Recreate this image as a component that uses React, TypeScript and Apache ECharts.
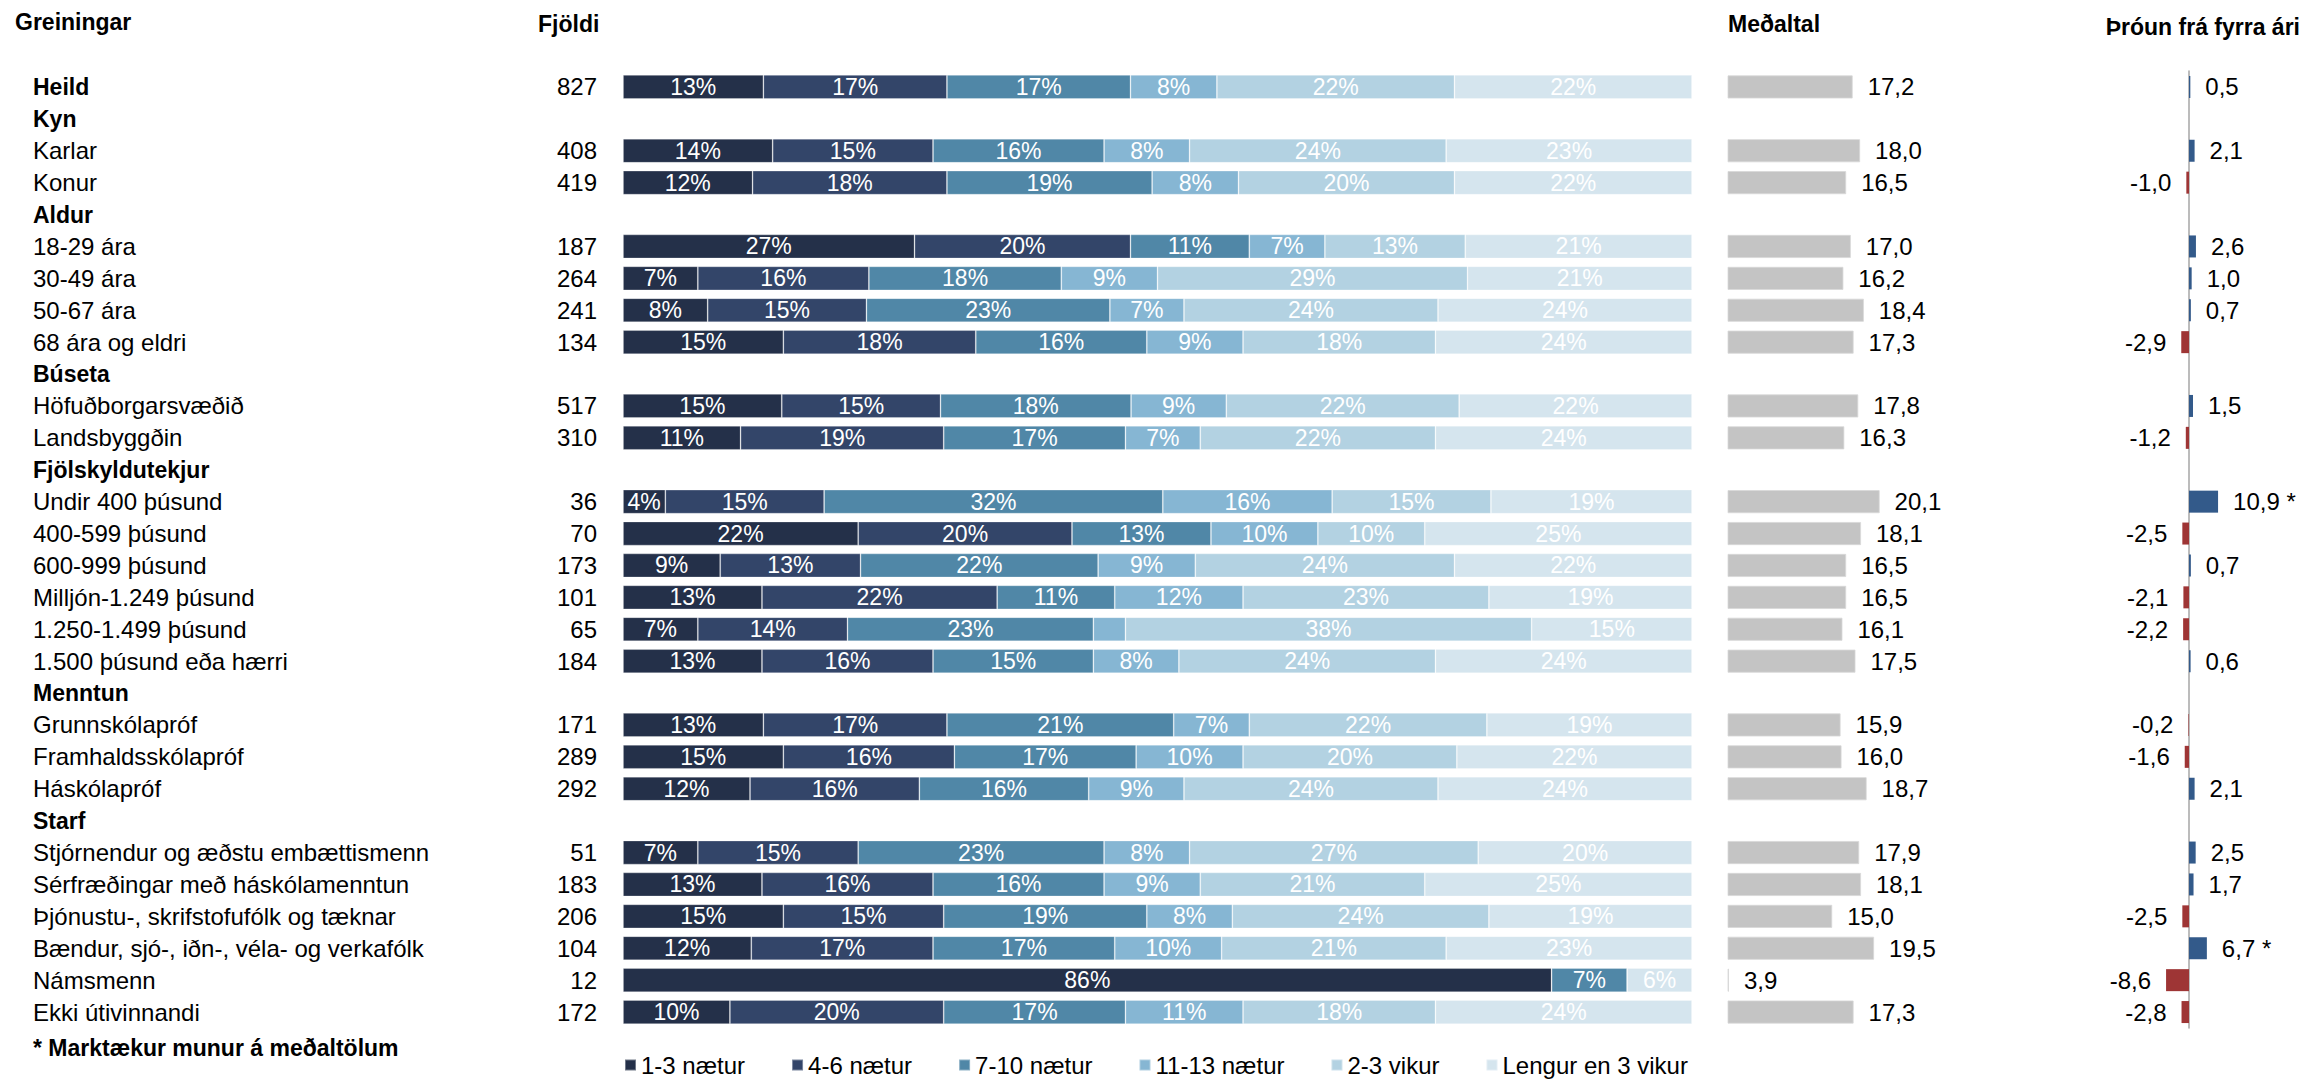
import React, { useEffect, useRef } from "react";
import * as echarts from "echarts";

const categories = [
  "Heild", "Kyn", "Karlar", "Konur", "Aldur", "18-29 ára", "30-49 ára", "50-67 ára", "68 ára og eldri",
  "Búseta", "Höfuðborgarsvæðið", "Landsbyggðin", "Fjölskyldutekjur", "Undir 400 þúsund", "400-599 þúsund",
  "600-999 þúsund", "Milljón-1.249 þúsund", "1.250-1.499 þúsund", "1.500 þúsund eða hærri", "Menntun",
  "Grunnskólapróf", "Framhaldsskólapróf", "Háskólapróf", "Starf", "Stjórnendur og æðstu embættismenn",
  "Sérfræðingar með háskólamenntun", "Þjónustu-, skrifstofufólk og tæknar", "Bændur, sjó-, iðn-, véla- og verkafólk",
  "Námsmenn", "Ekki útivinnandi",
];
const boldRows = [
  true, true, false, false, true, false, false, false, false,
  true, false, false, true, false, false,
  false, false, false, false, true,
  false, false, false, true, false,
  false, false, false,
  false, false,
];
const counts = [
  827, null, 408, 419, null, 187, 264, 241, 134,
  null, 517, 310, null, 36, 70,
  173, 101, 65, 184, null,
  171, 289, 292, null, 51,
  183, 206, 104,
  12, 172,
];
const seriesNames = ["1-3 nætur", "4-6 nætur", "7-10 nætur", "11-13 nætur", "2-3 vikur", "Lengur en 3 vikur"];
const seriesColors = ["#243049", "#334569", "#5087A7", "#86B6D3", "#B3D2E2", "#D5E5EE"];
const shares: (number[] | null)[] = [
  [13, 17, 17, 8, 22, 22],
  null,
  [14, 15, 16, 8, 24, 23],
  [12, 18, 19, 8, 20, 22],
  null,
  [27, 20, 11, 7, 13, 21],
  [7, 16, 18, 9, 29, 21],
  [8, 15, 23, 7, 24, 24],
  [15, 18, 16, 9, 18, 24],
  null,
  [15, 15, 18, 9, 22, 22],
  [11, 19, 17, 7, 22, 24],
  null,
  [4, 15, 32, 16, 15, 19],
  [22, 20, 13, 10, 10, 25],
  [9, 13, 22, 9, 24, 22],
  [13, 22, 11, 12, 23, 19],
  [7, 14, 23, 3, 38, 15],
  [13, 16, 15, 8, 24, 24],
  null,
  [13, 17, 21, 7, 22, 19],
  [15, 16, 17, 10, 20, 22],
  [12, 16, 16, 9, 24, 24],
  null,
  [7, 15, 23, 8, 27, 20],
  [13, 16, 16, 9, 21, 25],
  [15, 15, 19, 8, 24, 19],
  [12, 17, 17, 10, 21, 23],
  [86, 0, 7, 0, 0, 6],
  [10, 20, 17, 11, 18, 24],
];
const means = [
  17.2, null, 18.0, 16.5, null, 17.0, 16.2, 18.4, 17.3,
  null, 17.8, 16.3, null, 20.1, 18.1,
  16.5, 16.5, 16.1, 17.5, null,
  15.9, 16.0, 18.7, null, 17.9,
  18.1, 15.0, 19.5,
  3.9, 17.3,
];
const changes = [
  0.5, null, 2.1, -1.0, null, 2.6, 1.0, 0.7, -2.9,
  null, 1.5, -1.2, null, 10.9, -2.5,
  0.7, -2.1, -2.2, 0.6, null,
  -0.2, -1.6, 2.1, null, 2.5,
  1.7, -2.5, 6.7,
  -8.6, -2.8,
];
const significant = [
  false, false, false, false, false, false, false, false, false,
  false, false, false, false, true, false,
  false, false, false, false, false,
  false, false, false, false, false,
  false, false, true,
  false, false,
];

const FONT = "'Liberation Sans', Arial, Helvetica, sans-serif";
const comma = (v: number) => v.toFixed(1).replace(".", ",");

export default function App() {
  const ref = useRef<HTMLDivElement>(null);
  useEffect(() => {
    document.body.style.margin = "0";
    if (!ref.current) return;
    const chart = echarts.init(ref.current, undefined, { renderer: "svg" });

    const gridTop = 71;
    const gridHeight = 957;

    const stackSeries = seriesNames.map((name, si) => ({
      name,
      type: "bar",
      stack: "share",
      xAxisIndex: 0,
      yAxisIndex: 0,
      barWidth: 24,
      itemStyle: { color: seriesColors[si], borderColor: "rgba(255,255,255,0.35)", borderWidth: 0.8 },
      label: {
        show: true,
        position: "inside",
        color: "#ffffff",
        fontSize: 23,
        fontFamily: FONT,
        formatter: (p: any) => {
          const row = shares[p.dataIndex];
          if (!row) return "";
          const v = row[si];
          return v >= 4 ? v + "%" : "";
        },
      },
      data: shares.map((row) => {
        if (!row) return "-";
        const sum = row.reduce((a, b) => a + b, 0);
        return (row[si] / sum) * 100;
      }),
    }));

    const option: any = {
      animation: false,
      textStyle: { fontFamily: FONT },
      grid: [
        { left: 623, width: 1069, top: gridTop, height: gridHeight },
        { left: 1728, width: 197.2, top: gridTop, height: gridHeight },
        { left: 2157, width: 64, top: gridTop, height: gridHeight },
      ],
      xAxis: [
        { gridIndex: 0, type: "value", min: 0, max: 100, show: false },
        { gridIndex: 1, type: "value", min: 3.8, max: 25, show: false },
        { gridIndex: 2, type: "value", min: -12, max: 12, show: false },
      ],
      yAxis: [
        {
          gridIndex: 0,
          type: "category",
          inverse: true,
          data: categories,
          position: "left",
          axisLine: { show: false },
          axisTick: { show: false },
          axisLabel: {
            align: "left",
            margin: 590,
            interval: 0,
            formatter: (v: string, i: number) => (boldRows[i] ? `{b|${v}}` : `{n|${v}}`),
            rich: {
              b: { fontSize: 23, fontWeight: "bold", color: "#000", fontFamily: FONT },
              n: { fontSize: 24, color: "#000", fontFamily: FONT },
            },
          },
        },
        {
          gridIndex: 0,
          type: "category",
          inverse: true,
          data: categories,
          position: "left",
          axisLine: { show: false },
          axisTick: { show: false },
          axisLabel: {
            align: "right",
            margin: 26,
            interval: 0,
            fontSize: 24,
            color: "#000",
            fontFamily: FONT,
            formatter: (_v: string, i: number) => (counts[i] == null ? "" : String(counts[i])),
          },
        },
        {
          gridIndex: 1,
          type: "category",
          inverse: true,
          data: categories,
          show: false,
        },
        {
          gridIndex: 2,
          type: "category",
          inverse: true,
          data: categories,
          axisLine: { show: true, onZero: true, lineStyle: { color: "#A6A6A6", width: 1.5 } },
          axisTick: { show: false },
          axisLabel: { show: false },
        },
      ],
      legend: {
        left: 624,
        top: 1052,
        padding: 0,
        itemWidth: 11,
        itemHeight: 11,
        itemGap: 46,
        icon: "rect",
        data: seriesNames,
        textStyle: { fontSize: 24, lineHeight: 26, color: "#000", fontFamily: FONT },
      },
      series: [
        ...stackSeries,
        {
          name: "Meðaltal",
          type: "bar",
          xAxisIndex: 1,
          yAxisIndex: 2,
          barWidth: 23,
          itemStyle: { color: "#C4C4C4", borderColor: "#D8D8D8", borderWidth: 0.8 },
          label: {
            show: true,
            position: "right",
            distance: 15,
            fontSize: 24,
            color: "#000",
            fontFamily: FONT,
            formatter: (p: any) => (p.value == null ? "" : comma(p.value)),
          },
          data: means.map((m) => (m == null ? "-" : m)),
        },
        {
          name: "Þróun",
          type: "bar",
          xAxisIndex: 2,
          yAxisIndex: 3,
          barWidth: 22,
          data: changes.map((c, i) =>
            c == null
              ? "-"
              : {
                  value: c,
                  itemStyle: { color: c >= 0 ? "#335A8A" : "#9E3535" },
                  label: {
                    show: true,
                    position: c >= 0 ? "right" : "left",
                    distance: 15,
                    fontSize: 24,
                    color: "#000",
                    fontFamily: FONT,
                    formatter: () => comma(c) + (significant[i] ? " *" : ""),
                  },
                }
          ),
        },
      ],
      graphic: [
        {
          type: "text",
          x: 15,
          y: 22,
          style: { text: "Greiningar", font: `bold 23px ${FONT}`, fill: "#000", verticalAlign: "middle" },
        },
        {
          type: "text",
          x: 538,
          y: 24,
          style: { text: "Fjöldi", font: `bold 23px ${FONT}`, fill: "#000", verticalAlign: "middle" },
        },
        {
          type: "text",
          x: 1728,
          y: 24,
          style: { text: "Meðaltal", font: `bold 23px ${FONT}`, fill: "#000", verticalAlign: "middle" },
        },
        {
          type: "text",
          x: 2300,
          y: 27,
          style: { text: "Þróun frá fyrra ári", font: `bold 23px ${FONT}`, fill: "#000", align: "right", verticalAlign: "middle" },
        },
        {
          type: "text",
          x: 33,
          y: 1048,
          style: { text: "* Marktækur munur á meðaltölum", font: `bold 23px ${FONT}`, fill: "#000", verticalAlign: "middle" },
        },
      ],
    };
    chart.setOption(option);
    return () => chart.dispose();
  }, []);
  return <div ref={ref} style={{ width: 2305, height: 1080 }} />;
}
